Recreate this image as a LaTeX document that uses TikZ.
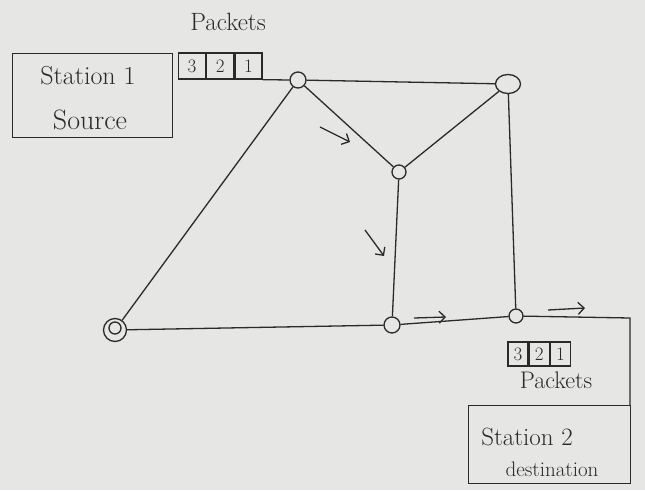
\documentclass[tikz,border=0pt]{standalone}
\usetikzlibrary{arrows.meta,shapes.geometric}
\definecolor{ink}{HTML}{2A2A2A}
\definecolor{paper}{HTML}{E6E6E4}
\begin{document}
\begin{tikzpicture}[x=1pt,y=-1pt,
  ink/.style={draw=ink,line width=1.3pt},
  sw/.style={ink,circle,minimum size=16pt,inner sep=0pt},
  lbl/.style={text=ink,inner sep=0pt},
  cell/.style={ink,minimum width=20pt,minimum height=20pt,inner sep=0pt,text=ink,font=\fontsize{19}{20}\selectfont},
  flow/.style={draw=ink,line width=1.3pt,-{Straight Barb[length=6pt]}}]
\fill[paper] (0,0) rectangle (645,490);
\useasboundingbox (0,0) rectangle (645,490);
% station 1
\node[ink,minimum width=160pt,minimum height=84pt,anchor=north west] (s1) at (12,53) {};
\node[lbl,font=\fontsize{26}{28}\selectfont] (s1a) at (88,76) {Station 1};
\node[lbl,font=\fontsize{28}{30}\selectfont] (s1b) at (90,120) {Source};
% top packets
\node[lbl,font=\fontsize{25}{27}\selectfont] (p1) at (228,22) {Packets};
\node[cell,minimum width=27pt,minimum height=26pt] (t3) at (192,66) {3};
\node[cell,minimum width=27pt,minimum height=26pt,anchor=west] (t2) at (t3.east) {2};
\node[cell,minimum width=27pt,minimum height=26pt,anchor=west] (t1) at (t2.east) {1};
% switching nodes
\node[sw] (A) at (298,80) {};
\node[sw,ellipse,minimum width=25pt,minimum height=19pt] (B) at (508,84) {};
\node[sw,minimum size=14pt] (C) at (399,172) {};
\node[sw,minimum size=23pt] (D) at (115,330) {};
\node[sw,minimum size=12pt] (Din) at (115,328) {};
\node[sw] (E) at (392,325) {};
\node[sw,minimum size=14pt] (F) at (516,316) {};
\coordinate (corner) at (630,318);
\coordinate (cornerb) at (630,405);
% links
\draw[ink] (t1.south east) -- (A.west);
\draw[ink] (A) -- (B);
\draw[ink] (A) -- (C);
\draw[ink] (C) -- (B);
\draw[ink] (A) -- (D);
\draw[ink] (C) -- (E);
\draw[ink] (B) -- (F);
\draw[ink] (D) -- (E);
\draw[ink] (E) -- (F);
\draw[ink] (F) -- (corner) -- (cornerb);
% flow arrows
\coordinate (a1s) at (320,127); \coordinate (a1e) at (350,142);
\draw[flow] (a1s) -- (a1e);
\coordinate (a2s) at (365,230); \coordinate (a2e) at (384,256);
\draw[flow] (a2s) -- (a2e);
\coordinate (a3s) at (414,318); \coordinate (a3e) at (446,317);
\draw[flow] (a3s) -- (a3e);
\coordinate (a4s) at (548,310); \coordinate (a4e) at (585,308);
\draw[flow] (a4s) -- (a4e);
% bottom packets
\node[cell,minimum width=20pt,minimum height=24pt] (b3) at (518,354) {3};
\node[cell,minimum width=20pt,minimum height=24pt,anchor=west] (b2) at (b3.east) {2};
\node[cell,minimum width=20pt,minimum height=24pt,anchor=west] (b1) at (b2.east) {1};
\node[lbl,font=\fontsize{24}{26}\selectfont] (p2) at (556,380) {Packets};
% station 2
\node[ink,minimum width=162pt,minimum height=78pt,anchor=north west] (s2) at (468,405) {};
\node[lbl,font=\fontsize{25}{27}\selectfont] (s2a) at (527,437) {Station 2};
\node[lbl,font=\fontsize{21}{23}\selectfont] (s2b) at (552,469) {destination};
\end{tikzpicture}
\end{document}
